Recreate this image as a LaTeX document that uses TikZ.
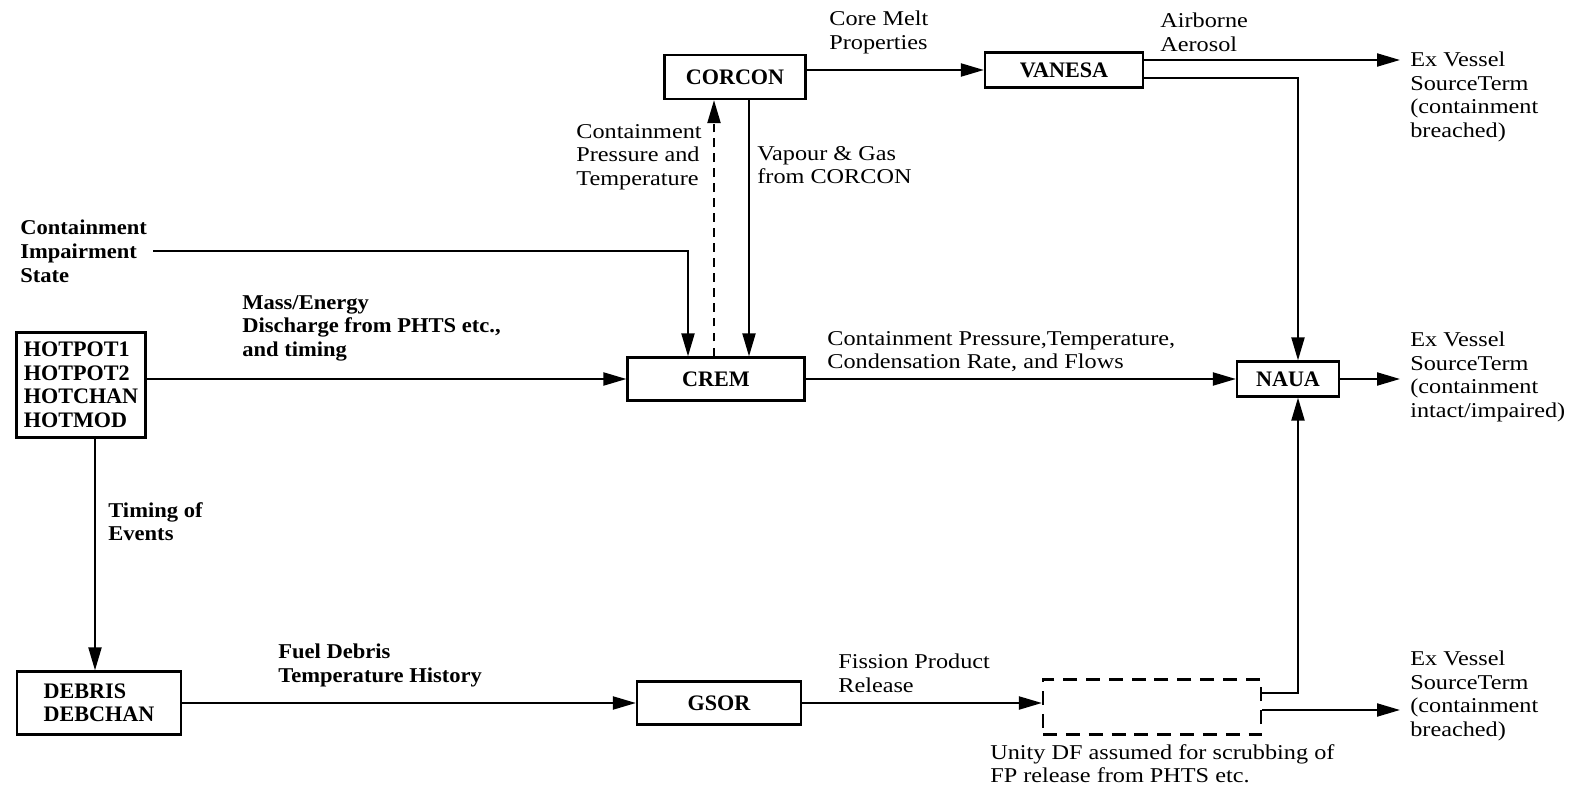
\documentclass[tikz,border=0pt]{standalone}
\usepackage{fontspec}
\setmainfont{Liberation Serif}
\newfontfamily\widefont{Liberation Serif}[FakeStretch=1.15]
\newfontfamily\boldwidefont{Liberation Serif}[FakeStretch=1.07]
\usepackage{tikz}
\usetikzlibrary{arrows.meta,positioning,calc}

\begin{document}
\begin{tikzpicture}[
  x=0.02cm,y=-0.02cm,
  font=\fontsize{12}{13.4}\selectfont,
  % boxes keep the sizes of the scanned original
  code/.style={draw,line width=1.3pt,inner sep=2pt,align=center,
    font=\fontsize{12.6}{13.4}\selectfont\bfseries},
  ghost/.style={code,dash pattern=on 8pt off 5pt},
  note/.style={align=left,inner sep=0pt,font=\widefont\fontsize{12}{13.4}\selectfont},
  boldnote/.style={note,font=\boldwidefont\fontsize{12}{13.4}\selectfont\bfseries},
  flow/.style={-{Triangle[length=4.6mm,width=2.6mm]},line width=1.2pt},
  outflow/.style={flow,shorten >=0.2cm},
  backflow/.style={flow,dash pattern=on 5pt off 3.5pt}
]
  \useasboundingbox (0,0) rectangle (1573,797);

  % program boxes
  \node[code,minimum width=2.82cm,minimum height=0.88cm] (corcon) at (735,77) {CORCON};
  \node[code,minimum width=3.16cm,minimum height=0.70cm] (vanesa) at (1064,70) {VANESA};
  \node[code,minimum width=3.54cm,minimum height=0.86cm] (crem) at (716,379) {CREM};
  \node[code,minimum width=2.04cm,minimum height=0.70cm] (naua) at (1288,379) {NAUA};
  \node[code,minimum width=2.58cm,minimum height=2.10cm,align=left] (hotpot) at (81,385)
    {HOTPOT1\\HOTPOT2\\HOTCHAN\\HOTMOD};
  \node[code,minimum width=3.28cm,minimum height=1.26cm,align=left] (debris) at (99,703)
    {DEBRIS\\DEBCHAN};
  \node[code,minimum width=3.28cm,minimum height=0.86cm] (gsor) at (719,703) {GSOR};
  \node[ghost,minimum width=4.36cm,minimum height=1.10cm] (scrub) at (1152,707) {};

  % outputs
  \node[note,anchor=west] (exvtop) at (1410,97)
    {Ex Vessel\\SourceTerm\\(containment\\breached)};
  \node[note,anchor=west] (exvmid) at (1410,377)
    {Ex Vessel\\SourceTerm\\(containment\\intact/impaired)};
  \node[note,anchor=west] (exvlow) at (1410,696)
    {Ex Vessel\\SourceTerm\\(containment\\breached)};

  % input and flow labels
  \node[boldnote,anchor=north west] (impair) at (20,220)
    {Containment\\Impairment\\State};
  \node[note,anchor=north west] (meltlbl) at (829,11) {Core Melt\\Properties};
  \node[note,anchor=north west] (aerolbl) at (1160,13) {Airborne\\Aerosol};
  \node[note,anchor=north east] (cptlbl) at (702,124)
    {Containment\\Pressure and\\Temperature};
  \node[note,anchor=north west] (gaslbl) at (757,146) {Vapour \& Gas\\from CORCON};
  \node[boldnote,anchor=north west] (masslbl) at (242,295)
    {Mass/Energy\\Discharge from PHTS etc.,\\and timing};
  \node[note,anchor=north west] (condlbl) at (827,331)
    {Containment Pressure,Temperature,\\Condensation Rate, and Flows};
  \node[boldnote,anchor=north west] (timelbl) at (108,502) {Timing of\\Events};
  \node[boldnote,anchor=north west] (fuellbl) at (278,644)
    {Fuel Debris\\Temperature History};
  \node[note,anchor=north west] (fplbl) at (838,654) {Fission Product\\Release};
  \node[note,anchor=north west] (dflbl) at (990,744)
    {Unity DF assumed for scrubbing of\\FP release from PHTS etc.};

  \coordinate (cptup) at ($(crem.north)+(-2,0)$);
  \coordinate (gasdown) at ($(corcon.south)+(14,0)$);
  \coordinate (impout) at ($(impair.east)+(6,0)$);
  \coordinate (impin) at ($(crem.north)+(-28,0)$);
  \coordinate (hotdown) at ($(hotpot.south)+(14,0)$);
  \coordinate (aeroout) at ($(vanesa.east)+(0,-10)$);
  \coordinate (aerodown) at ($(vanesa.east)+(0,8)$);
  \coordinate (scrubup) at ($(scrub.east)+(0,-14)$);
  \coordinate (scrubout) at ($(scrub.east)+(0,3)$);

  \draw[flow] (corcon.east |- vanesa.west) -- (vanesa.west);
  \draw[outflow] (aeroout) -- (aeroout -| exvtop.west);
  \draw[flow] (aerodown) -| ($(naua.north)+(10,0)$);
  \draw[backflow] (cptup) -- (cptup |- corcon.south);
  \draw[flow] (gasdown) -- (gasdown |- crem.north);
  \draw[flow] (impout) -| (impin);
  \draw[flow] (hotpot.east |- crem.west) -- (crem.west);
  \draw[flow] (crem.east) -- (naua.west);
  \draw[outflow] (naua.east) -- (naua.east -| exvmid.west);
  \draw[flow] (hotdown) -- (hotdown |- debris.north);
  \draw[flow] (debris.east) -- (gsor.west);
  \draw[flow] (gsor.east) -- (gsor.east -| scrub.west);
  \draw[flow] (scrubup) -| ($(naua.south)+(10,0)$);
  \draw[outflow] (scrubout) -- (scrubout -| exvlow.west);
\end{tikzpicture}
\end{document}
